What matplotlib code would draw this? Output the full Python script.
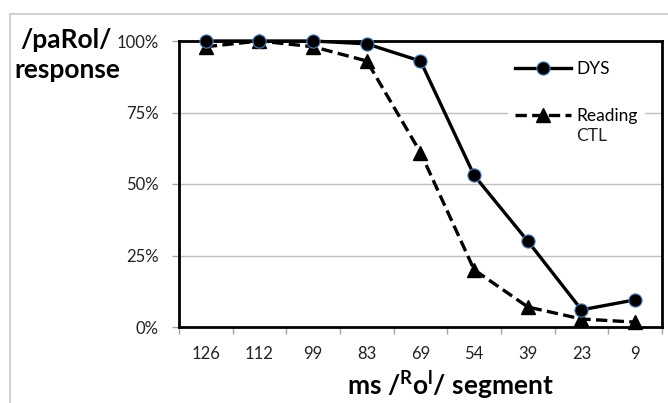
import matplotlib.pyplot as plt
from matplotlib.patches import Rectangle
from matplotlib.lines import Line2D

plt.rcParams['font.family'] = ['Lato', 'DejaVu Sans']
plt.rcParams['mathtext.fontset'] = 'custom'
plt.rcParams['mathtext.rm'] = 'Lato'
plt.rcParams['mathtext.bf'] = 'Lato:bold'

segments = ['126', '112', '99', '83', '69', '54', '39', '23', '9']
dys = [100, 100, 100, 99, 93, 53, 30, 6, 9.5]
ctl = [98, 100, 98, 93, 61, 20, 7, 2.8, 1.7]

fig = plt.figure(figsize=(6.68, 4.03), dpi=100)
# outer chart border
fig.patches.append(Rectangle((10 / 668, -0.1), 1.2, 1.1 - 14 / 403, transform=fig.transFigure,
                             fill=False, edgecolor='#c8c8c8', lw=1.2))

ax = fig.add_axes([179 / 668, 1 - 327 / 403, 483 / 668, 286 / 403])
x = range(len(segments))

edge = '#4f81bd'
dash = (0, (3.4, 1.6))
ax.plot(x, dys, color='black', lw=2.4, marker='o', markersize=9.5,
        markerfacecolor='black', markeredgecolor=edge, markeredgewidth=0.8, zorder=4, clip_on=False)
ax.plot(x, ctl, color='black', lw=2.4, ls=dash, marker='^', markersize=10,
        markerfacecolor='black', markeredgecolor='black', zorder=3, clip_on=False)

ax.set_ylim(0, 100)
ax.set_xlim(-0.5, len(segments) - 0.5)
ax.set_yticks([0, 25, 50, 75, 100])
ax.set_yticklabels(['0%', '25%', '50%', '75%', '100%'])
ax.set_xticks([i - 0.5 for i in range(len(segments) + 1)])
ax.set_xticklabels([])
ax.set_xticks(list(x), minor=True)
ax.set_xticklabels(segments, minor=True)
ax.tick_params(axis='x', which='major', length=5, color='#a6a6a6', width=1)
ax.tick_params(axis='x', which='minor', length=0, pad=14, labelsize=12, labelcolor='#222222')
ax.tick_params(axis='y', length=5, color='#a6a6a6', width=1, pad=9.5, labelsize=12, labelcolor='#222222')

for y in [25, 50, 75]:
    ax.axhline(y, color='#bfbfbf', lw=1, zorder=1)
for s in ax.spines.values():
    s.set_color('black')
    s.set_linewidth(2)

handles = [
    Line2D([], [], color='black', lw=2.4, marker='o', markersize=9.5,
           markerfacecolor='black', markeredgecolor=edge, markeredgewidth=0.8),
    Line2D([], [], color='black', lw=2.4, ls=dash, marker='^', markersize=10,
           markerfacecolor='black'),
]
leg = ax.legend(handles, ['DYS', 'Reading'], loc='upper left',
                bbox_to_anchor=(508 / 668, 1 - 54 / 403), bbox_transform=fig.transFigure,
                borderaxespad=0, frameon=True, framealpha=1, edgecolor='white', fontsize=12.5,
                handlelength=3.2, labelspacing=1.8, handletextpad=0.35, borderpad=0.4)
leg.get_frame().set_linewidth(0)
leg.set_zorder(5)
fig.canvas.draw()
tb = leg.get_texts()[1].get_window_extent()
fig.text(tb.x0, tb.y0 - 4, 'CTL', fontsize=12.5, color='#222222', va='top', ha='left',
         transform=None)

fig.text(66 / 668, 1 - 40 / 403, '/paRol/', fontsize=19, fontweight='bold', ha='center', va='center')
fig.text(67 / 668, 1 - 70 / 403, 'response', fontsize=19, fontweight='bold', ha='center', va='center')
fig.text(450 / 668, 1 - 385 / 403, r'ms /$\mathbf{^{R}o^{l}}$/ segment', fontsize=19,
         fontweight='bold', ha='center', va='center')

fig.savefig('out.png', dpi=100)
